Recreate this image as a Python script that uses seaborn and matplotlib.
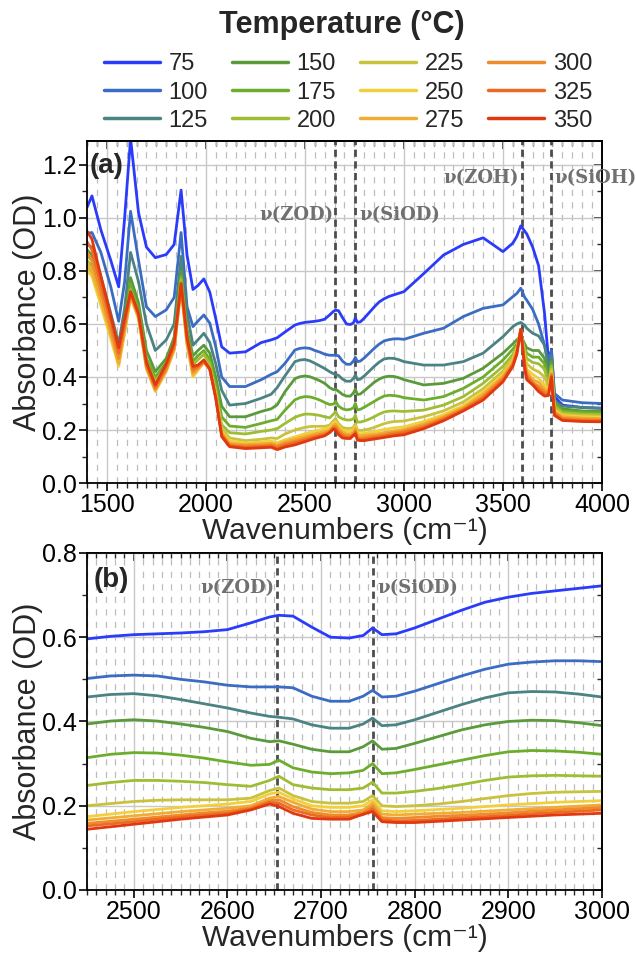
import numpy as np
import pandas as pd
import matplotlib
matplotlib.use("Agg")
import matplotlib.pyplot as plt
from matplotlib.ticker import MultipleLocator, FormatStrFormatter
import seaborn as sns

# =========================
# Data
# =========================
wavenumbers = [1400, 1425, 1470, 1520, 1560, 1590, 1620, 1660, 1700, 1745, 1800, 1840, 1875, 1905, 1935,
               1960, 1990, 2020, 2050, 2080, 2120,
               2200, 2280, 2330, 2360, 2400,
               2450, 2475, 2500, 2525, 2550, 2575, 2600, 2625, 2645, 2655, 2670, 2690, 2710, 2730, 2745,
               2755, 2765, 2780, 2800, 2825, 2850, 2875, 2900, 2925, 2950, 2975, 3000,
               3100, 3200, 3300, 3400, 3500, 3550, 3570, 3590, 3610, 3620, 3650, 3680, 3710, 3730, 3745,
               3760, 3800, 3900, 4000]

temperatures = ["75", "100", "125", "150", "175", "200", "225", "250", "275", "300", "325", "350"]

colors = ["#2a3cfa", "#3b6cc4", "#4b8282", "#5b9a3b", "#6cae2b", "#9fbd33",
          "#c9c23c", "#f2cf3c", "#f1ac35", "#ee8c2c", "#ec6a24", "#e2380f"]

# each series: 1400-2120 | 2200-2400 | 2450-3000 | 3100-4000
abs_75 = [1.04, 1.083, 0.955, 0.84, 0.74, 1.0, 1.30, 1.02, 0.89, 0.85, 0.862, 0.90, 1.105, 0.86, 0.73, 0.745, 0.77, 0.72, 0.62, 0.514, 0.49,
          0.495, 0.53, 0.54, 0.548, 0.57,
          0.596, 0.602, 0.606, 0.608, 0.61, 0.613, 0.618, 0.634, 0.648, 0.652, 0.65, 0.624, 0.60, 0.598, 0.604, 0.622, 0.606, 0.608, 0.622,
          0.643, 0.664, 0.683, 0.695, 0.704, 0.71, 0.716, 0.722,
          0.79, 0.86, 0.90, 0.925, 0.873, 0.905, 0.93, 0.97, 0.95, 0.94, 0.89, 0.82, 0.64, 0.464, 0.50, 0.326, 0.294, 0.285, 0.282]
abs_100 = [0.942, 0.945, 0.87, 0.74, 0.61, 0.76, 1.025, 0.84, 0.665, 0.628, 0.653, 0.70, 0.945, 0.665, 0.59, 0.611, 0.634, 0.603, 0.514, 0.40, 0.364,
           0.364, 0.39, 0.41, 0.42, 0.452,
           0.502, 0.508, 0.51, 0.508, 0.50, 0.494, 0.486, 0.482, 0.482, 0.482, 0.48, 0.46, 0.448, 0.448, 0.46, 0.474, 0.458, 0.46, 0.472,
           0.49, 0.508, 0.524, 0.536, 0.541, 0.544, 0.544, 0.542,
           0.565, 0.584, 0.628, 0.659, 0.672, 0.703, 0.715, 0.735, 0.70, 0.69, 0.655, 0.60, 0.52, 0.46, 0.50, 0.338, 0.313, 0.303, 0.30]
abs_125 = [0.90, 0.89, 0.78, 0.64, 0.525, 0.66, 0.87, 0.76, 0.60, 0.50, 0.54, 0.60, 0.855, 0.64, 0.52, 0.54, 0.565, 0.53, 0.45, 0.35, 0.294,
           0.30, 0.32, 0.335, 0.36, 0.405,
           0.458, 0.464, 0.466, 0.461, 0.452, 0.442, 0.432, 0.42, 0.412, 0.41, 0.406, 0.392, 0.384, 0.384, 0.394, 0.408, 0.39, 0.392, 0.404,
           0.422, 0.44, 0.456, 0.468, 0.471, 0.47, 0.465, 0.458,
           0.445, 0.445, 0.458, 0.49, 0.552, 0.59, 0.60, 0.606, 0.595, 0.584, 0.565, 0.555, 0.52, 0.43, 0.48, 0.31, 0.29, 0.285, 0.282]
abs_150 = [0.88, 0.86, 0.75, 0.61, 0.50, 0.62, 0.775, 0.68, 0.50, 0.42, 0.47, 0.55, 0.80, 0.58, 0.48, 0.50, 0.52, 0.49, 0.40, 0.29, 0.25,
           0.25, 0.27, 0.28, 0.295, 0.345,
           0.394, 0.401, 0.404, 0.401, 0.394, 0.386, 0.376, 0.36, 0.352, 0.354, 0.346, 0.334, 0.328, 0.328, 0.34, 0.354, 0.334, 0.336, 0.348,
           0.364, 0.38, 0.392, 0.40, 0.403, 0.402, 0.397, 0.39,
           0.37, 0.376, 0.395, 0.433, 0.49, 0.525, 0.54, 0.555, 0.525, 0.51, 0.50, 0.50, 0.47, 0.40, 0.46, 0.305, 0.28, 0.272, 0.27]
abs_175 = [0.86, 0.84, 0.73, 0.60, 0.49, 0.60, 0.75, 0.655, 0.47, 0.40, 0.455, 0.535, 0.78, 0.565, 0.46, 0.48, 0.50, 0.465, 0.37, 0.25, 0.215,
           0.21, 0.225, 0.235, 0.24, 0.275,
           0.314, 0.322, 0.326, 0.325, 0.32, 0.313, 0.304, 0.296, 0.298, 0.308, 0.29, 0.28, 0.276, 0.278, 0.284, 0.30, 0.276, 0.278, 0.286,
           0.297, 0.308, 0.319, 0.328, 0.331, 0.33, 0.327, 0.322,
           0.313, 0.326, 0.357, 0.40, 0.464, 0.505, 0.525, 0.55, 0.51, 0.49, 0.475, 0.475, 0.45, 0.38, 0.45, 0.30, 0.272, 0.266, 0.264]
abs_200 = [0.84, 0.82, 0.71, 0.58, 0.47, 0.59, 0.73, 0.64, 0.455, 0.385, 0.44, 0.52, 0.77, 0.55, 0.445, 0.465, 0.485, 0.45, 0.35, 0.22, 0.19,
           0.185, 0.195, 0.20, 0.205, 0.225,
           0.248, 0.255, 0.26, 0.26, 0.258, 0.255, 0.25, 0.246, 0.26, 0.27, 0.25, 0.242, 0.238, 0.238, 0.242, 0.256, 0.23, 0.23, 0.234,
           0.241, 0.25, 0.26, 0.268, 0.271, 0.272, 0.271, 0.27,
           0.275, 0.294, 0.326, 0.376, 0.44, 0.485, 0.515, 0.56, 0.50, 0.47, 0.455, 0.45, 0.43, 0.37, 0.44, 0.29, 0.266, 0.26, 0.258]
abs_225 = [0.81, 0.79, 0.68, 0.555, 0.45, 0.57, 0.71, 0.625, 0.44, 0.36, 0.425, 0.505, 0.745, 0.53, 0.42, 0.44, 0.465, 0.435, 0.335, 0.205, 0.17,
           0.16, 0.165, 0.17, 0.168, 0.185,
           0.20, 0.205, 0.21, 0.213, 0.214, 0.214, 0.214, 0.218, 0.236, 0.242, 0.224, 0.21, 0.206, 0.206, 0.21, 0.224, 0.20, 0.198, 0.20,
           0.204, 0.21, 0.217, 0.224, 0.229, 0.232, 0.233, 0.234,
           0.25, 0.272, 0.306, 0.356, 0.422, 0.472, 0.51, 0.57, 0.485, 0.45, 0.43, 0.42, 0.40, 0.36, 0.43, 0.28, 0.26, 0.255, 0.252]
abs_250 = [0.80, 0.78, 0.67, 0.545, 0.44, 0.565, 0.70, 0.62, 0.43, 0.345, 0.42, 0.50, 0.735, 0.52, 0.40, 0.425, 0.455, 0.43, 0.33, 0.195, 0.16,
           0.15, 0.155, 0.158, 0.152, 0.163,
           0.174, 0.18, 0.186, 0.191, 0.196, 0.20, 0.204, 0.21, 0.228, 0.232, 0.216, 0.20, 0.196, 0.196, 0.20, 0.214, 0.188, 0.186, 0.188,
           0.191, 0.194, 0.198, 0.202, 0.205, 0.208, 0.21, 0.212,
           0.232, 0.258, 0.292, 0.343, 0.41, 0.462, 0.505, 0.575, 0.47, 0.43, 0.41, 0.395, 0.37, 0.35, 0.42, 0.275, 0.255, 0.25, 0.248]
abs_275 = [0.83, 0.80, 0.69, 0.56, 0.45, 0.575, 0.705, 0.625, 0.435, 0.35, 0.425, 0.505, 0.74, 0.525, 0.41, 0.43, 0.455, 0.43, 0.328, 0.19, 0.15,
           0.145, 0.148, 0.15, 0.144, 0.156,
           0.166, 0.171, 0.176, 0.181, 0.186, 0.19, 0.194, 0.20, 0.218, 0.222, 0.208, 0.192, 0.186, 0.186, 0.19, 0.206, 0.18, 0.178, 0.18,
           0.182, 0.184, 0.187, 0.19, 0.193, 0.196, 0.199, 0.202,
           0.223, 0.25, 0.285, 0.335, 0.402, 0.456, 0.50, 0.58, 0.46, 0.42, 0.39, 0.38, 0.355, 0.345, 0.415, 0.27, 0.25, 0.245, 0.243]
abs_300 = [0.87, 0.84, 0.72, 0.58, 0.47, 0.59, 0.712, 0.63, 0.44, 0.355, 0.43, 0.51, 0.745, 0.535, 0.42, 0.435, 0.458, 0.43, 0.325, 0.185, 0.145,
           0.14, 0.142, 0.145, 0.138, 0.149,
           0.158, 0.163, 0.168, 0.173, 0.178, 0.183, 0.187, 0.195, 0.212, 0.214, 0.198, 0.184, 0.178, 0.178, 0.184, 0.198, 0.172, 0.17, 0.172,
           0.175, 0.177, 0.18, 0.183, 0.187, 0.19, 0.193, 0.196,
           0.216, 0.245, 0.28, 0.326, 0.395, 0.45, 0.495, 0.58, 0.45, 0.41, 0.38, 0.365, 0.345, 0.34, 0.41, 0.265, 0.245, 0.24, 0.238]
abs_325 = [0.91, 0.88, 0.75, 0.61, 0.49, 0.605, 0.718, 0.635, 0.45, 0.362, 0.44, 0.52, 0.75, 0.545, 0.43, 0.44, 0.46, 0.43, 0.322, 0.18, 0.14,
           0.135, 0.138, 0.14, 0.132, 0.143,
           0.152, 0.157, 0.162, 0.168, 0.173, 0.178, 0.182, 0.192, 0.208, 0.206, 0.19, 0.178, 0.172, 0.173, 0.179, 0.192, 0.167, 0.164, 0.165,
           0.168, 0.171, 0.174, 0.177, 0.181, 0.184, 0.187, 0.19,
           0.21, 0.24, 0.276, 0.32, 0.388, 0.445, 0.49, 0.58, 0.44, 0.40, 0.375, 0.355, 0.335, 0.335, 0.405, 0.262, 0.24, 0.235, 0.234]
abs_350 = [0.95, 0.92, 0.78, 0.63, 0.51, 0.62, 0.722, 0.64, 0.455, 0.37, 0.45, 0.53, 0.753, 0.55, 0.44, 0.445, 0.464, 0.43, 0.32, 0.175, 0.137,
           0.13, 0.133, 0.135, 0.126, 0.136,
           0.144, 0.15, 0.156, 0.162, 0.168, 0.173, 0.178, 0.19, 0.204, 0.198, 0.182, 0.17, 0.168, 0.168, 0.18, 0.186, 0.162, 0.16, 0.16,
           0.163, 0.166, 0.169, 0.172, 0.175, 0.178, 0.18, 0.182,
           0.205, 0.235, 0.272, 0.313, 0.382, 0.44, 0.485, 0.58, 0.43, 0.39, 0.37, 0.345, 0.328, 0.33, 0.40, 0.255, 0.236, 0.232, 0.231]

spectra = [abs_75, abs_100, abs_125, abs_150, abs_175, abs_200,
           abs_225, abs_250, abs_275, abs_300, abs_325, abs_350]

# band positions (cm-1)
band_pos = {"ZOD": 2653, "SiOD": 2755, "ZOH": 3594, "SiOH": 3743}

for s in spectra:
    assert len(s) == len(wavenumbers), len(s)

df = pd.DataFrame({
    "Wavenumber": np.tile(wavenumbers, len(temperatures)),
    "Absorbance": np.concatenate([np.asarray(s, float) for s in spectra]),
    "Temperature": np.repeat(temperatures, len(wavenumbers)),
})

# =========================
# Style
# =========================
sns.set_style("ticks")
plt.rcParams["font.family"] = ["Liberation Sans", "DejaVu Sans"]

fig = plt.figure(figsize=(6.36, 9.55), dpi=100)
ax_a = fig.add_axes([0.1368, 0.4942, 0.8097, 0.3581])
ax_b = fig.add_axes([0.1368, 0.0681, 0.8097, 0.3529])

palette = dict(zip(temperatures, colors))
for ax in (ax_a, ax_b):
    sns.lineplot(data=df, x="Wavenumber", y="Absorbance", hue="Temperature",
                 hue_order=temperatures, palette=palette, estimator=None,
                 errorbar=None, sort=False, lw=2.0, ax=ax,
                 legend="full" if ax is ax_a else False)

handles, labels = ax_a.get_legend_handles_labels()
ax_a.get_legend().remove()


def style_axis(ax, xlim, ylim, xmaj, xmin):
    ax.set_xlim(*xlim)
    ax.set_ylim(*ylim)
    ax.xaxis.set_major_locator(MultipleLocator(xmaj))
    ax.xaxis.set_minor_locator(MultipleLocator(xmin))
    ax.yaxis.set_major_locator(MultipleLocator(0.2))
    ax.yaxis.set_minor_locator(MultipleLocator(0.1))
    ax.yaxis.set_major_formatter(FormatStrFormatter("%.1f"))
    ax.grid(which="major", color="#c8c8c8", lw=1.0, ls="-")
    ax.grid(which="minor", axis="x", color="#bdbdbd", lw=0.9, ls=(0, (5, 5)))
    ax.set_axisbelow(True)
    ax.tick_params(which="major", direction="out", length=6, width=1.2,
                   labelsize=18, pad=1.5, colors="black")
    ax.tick_params(which="minor", direction="out", length=3.5, width=1.0)
    for sp in ax.spines.values():
        sp.set_visible(True)
        sp.set_linewidth(1.3)
        sp.set_color("black")
    # inward ticks on top and right
    secx = ax.secondary_xaxis("top")
    secx.xaxis.set_major_locator(MultipleLocator(xmaj))
    secx.xaxis.set_minor_locator(MultipleLocator(xmin))
    secx.tick_params(which="major", direction="in", length=6, width=1.2, labeltop=False)
    secx.tick_params(which="minor", direction="in", length=3.5, width=1.0)
    secy = ax.secondary_yaxis("right")
    secy.yaxis.set_major_locator(MultipleLocator(0.2))
    secy.yaxis.set_minor_locator(MultipleLocator(0.1))
    secy.tick_params(which="major", direction="in", length=6, width=1.2, labelright=False)
    secy.tick_params(which="minor", direction="in", length=3.5, width=1.0)
    for s in (secx, secy):
        for sp in s.spines.values():
            sp.set_linewidth(1.3)
    ax.set_xlabel("Wavenumbers (cm⁻¹)", fontsize=21.5, labelpad=0)
    ax.set_ylabel("Absorbance (OD)", fontsize=22, labelpad=-1)


style_axis(ax_a, (1400, 4000), (0, 1.29), 500, 50)
style_axis(ax_b, (2450, 3000), (0, 0.8), 100, 10)

band_style = dict(color="#4d4d4d", lw=2.0, ls=(0, (2.6, 1.6)), zorder=1)
label_style = dict(family=["DejaVu Serif"], fontweight="bold", fontsize=13, color="#707070")

for name in ["ZOD", "SiOD", "ZOH", "SiOH"]:
    ax_a.axvline(band_pos[name], **band_style)
for name in ["ZOD", "SiOD"]:
    ax_b.axvline(band_pos[name], **band_style)

ax_a.text(band_pos["ZOD"] - 10, 1.01, "ν(ZOD)", ha="right", va="center", **label_style)
ax_a.text(band_pos["SiOD"] + 22, 1.01, "ν(SiOD)", ha="left", va="center", **label_style)
ax_a.text(band_pos["ZOH"] - 15, 1.15, "ν(ZOH)", ha="right", va="center", **label_style)
ax_a.text(band_pos["SiOH"] + 18, 1.15, "ν(SiOH)", ha="left", va="center", **label_style)
ax_b.text(band_pos["ZOD"] - 3, 0.716, "ν(ZOD)", ha="right", va="center", **label_style)
ax_b.text(band_pos["SiOD"] + 5, 0.716, "ν(SiOD)", ha="left", va="center", **label_style)

ax_a.text(0.006, 0.927, "(a)", transform=ax_a.transAxes, fontsize=20,
          fontweight="bold", ha="left", va="center")
ax_b.text(0.012, 0.92, "(b)", transform=ax_b.transAxes, fontsize=20,
          fontweight="bold", ha="left", va="center")

# =========================
# Legend
# =========================
fig.text(0.538, 1 - 25 / 955, "Temperature (°C)", fontsize=22, fontweight="bold",
         ha="center", va="center")
leg = fig.legend(handles, labels, loc="upper center", bbox_to_anchor=(0.547, 0.944),
                 ncol=4, frameon=False, fontsize=17, handlelength=2.4,
                 handletextpad=0.35, columnspacing=1.0, labelspacing=0.26,
                 borderpad=0, borderaxespad=0)
for line in leg.get_lines():
    line.set_linewidth(2.5)

fig.savefig("out.png", dpi=100)
plt.close(fig)
